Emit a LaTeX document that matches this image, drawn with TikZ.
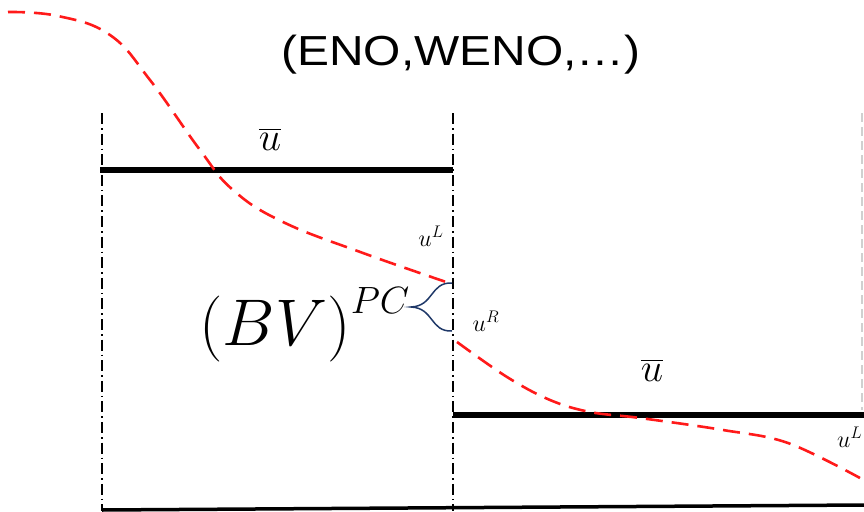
\RequirePackage{fix-cm}
\documentclass[tikz,border=0pt]{standalone}
\usepackage{fontspec}
\newfontfamily\titlefont{Liberation Sans}
\usepackage{amsmath}
\usetikzlibrary{positioning}
\definecolor{reconred}{HTML}{FF1A1A}
\definecolor{bracenavy}{HTML}{1F3868}
\definecolor{edgegray}{HTML}{D0D0D0}
\tikzset{
  cellline/.style={line width=1.6pt, dash pattern=on 11pt off 4pt on 1.6pt off 4pt},
  edgeline/.style={edgegray, line width=1.6pt, dash pattern=on 9pt off 5pt},
  avgbar/.style={line width=6.5pt},
  reconline/.style={reconred, line width=2.6pt, dash pattern=on 17pt off 9pt},
  bracecurve/.style={bracenavy, line width=1.5pt},
  smalllabel/.style={inner sep=0pt, font=\fontsize{24}{28}\selectfont},
  barlabel/.style={inner sep=0pt, font=\fontsize{40}{46}\selectfont},
}

\begin{document}
\begin{tikzpicture}[x=1pt, y=-1pt]
  \useasboundingbox (0,0) rectangle (864,511);

  % cell edges
  \coordinate (xa) at (102,113);
  \coordinate (xb) at (453,113);
  \coordinate (xc) at (862,113);
  \draw[cellline] (xa) -- (102,511);
  \draw[cellline] (xb) -- (453,511);
  \draw[edgeline] (xc) -- (862,410);
  \draw[line width=3.5pt] (102,510) -- (864,505);

  % cell averages
  \draw[avgbar] (100,170) -- (453,170);
  \draw[avgbar] (453,415) -- (864,415);
  \node[barlabel] (ubarL) at (270,139) {$\overline{u}$};
  \node[barlabel] (ubarR) at (652,370) {$\overline{u}$};

  % reconstruction
  \draw[reconline] plot[smooth, tension=0.7] coordinates {(8,12) (58,16) (110,35) (150,80) (200,150) (233,190) (283,222) (363,253) (452,284)};
  \draw[reconline] plot[smooth, tension=0.6] coordinates {(457,342) (507,377) (550,400) (590,412) (640,418) (723,430) (788,443) (860,478)};

  \node[font=\titlefont\fontsize{42}{48}\selectfont] (title) at (461,55) {\scalebox{1.14}[1]{(ENO,WENO,\dots)}};

  % interface values
  \node[smalllabel] (uL) at (431,236) {$u^L$};
  \node[smalllabel] (uR) at (486,321) {$u^R$};
  \node[smalllabel, anchor=west] (uL2) at (837,437) {$u^L$};

  \coordinate (jumpL) at (452,283);
  \coordinate (jumpR) at (452,331);
  \coordinate (tip) at (411,307);
  \draw[bracecurve] (jumpL) .. controls (430,282) and (434,306) .. (tip)
    .. controls (434,308) and (430,332) .. (jumpR);
  \node[inner sep=0pt, anchor=east, xshift=-1pt, yshift=-18pt, font=\fontsize{66}{72}\selectfont] (bv) at (tip) {$\left(BV\right)^{\mbox{\fontsize{38}{40}\selectfont$PC$}}$};
\end{tikzpicture}
\end{document}
